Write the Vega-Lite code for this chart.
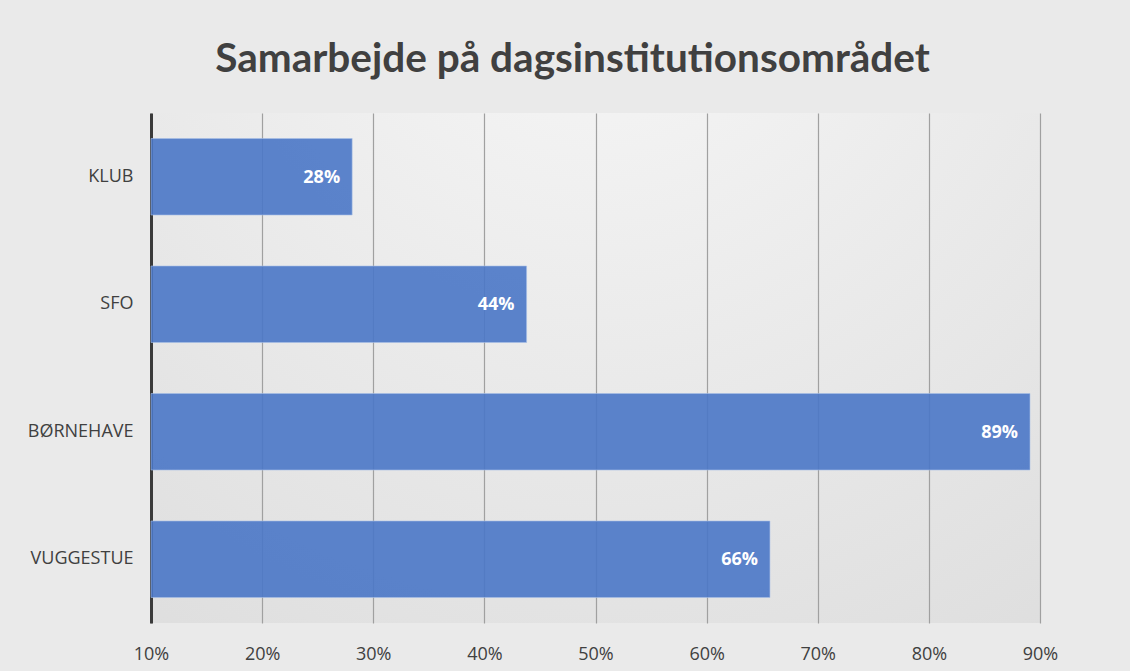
{
  "$schema": "https://vega.github.io/schema/vega-lite/v6.json",
  "width": 889,
  "height": 510,
  "autosize": {"type": "none"},
  "padding": {"left": 151, "top": 113, "right": 90, "bottom": 48},
  "background": "#eaeaea",
  "title": {
    "text": "Samarbejde på dagsinstitutionsområdet",
    "font": "Lato",
    "fontSize": 40.5,
    "fontWeight": "bold",
    "color": "#404040",
    "offset": 33,
    "dx": -23
  },
  "config": {
    "view": {
      "stroke": null,
      "fill": {
        "gradient": "radial",
        "x1": 0.5, "y1": 0, "r1": 0,
        "x2": 0.5, "y2": 0, "r2": 1.1,
        "stops": [
          {"offset": 0, "color": "#f8f8f8"},
          {"offset": 1, "color": "#dadada"}
        ]
      }
    }
  },
  "data": {
    "values": [
      {"kategori": "KLUB", "andel": 0.281},
      {"kategori": "SFO", "andel": 0.438},
      {"kategori": "BØRNEHAVE", "andel": 0.891},
      {"kategori": "VUGGESTUE", "andel": 0.657}
    ]
  },
  "encoding": {
    "y": {
      "field": "kategori",
      "type": "nominal",
      "sort": null,
      "scale": {"paddingInner": 0.4, "paddingOuter": 0.2},
      "axis": {
        "title": null,
        "ticks": false,
        "domainColor": "#3a3a3a",
        "domainWidth": 3,
        "labelFont": "Open Sans",
        "labelFontSize": 18,
        "labelColor": "#404040",
        "labelPadding": 18
      }
    }
  },
  "layer": [
    {
      "mark": {"type": "bar", "color": "#4a77c6", "fillOpacity": 0.9, "stroke": "#a9bfe6", "strokeWidth": 1, "strokeOpacity": 0.6},
      "encoding": {
        "x": {
          "field": "andel",
          "type": "quantitative",
          "scale": {"domain": [0.1, 0.9], "nice": false, "zero": false},
          "axis": {
            "title": null,
            "values": [0.1, 0.2, 0.3, 0.4, 0.5, 0.6, 0.7, 0.8, 0.9],
            "format": ".0%",
            "domain": false,
            "ticks": false,
            "grid": true,
            "gridColor": "#a0a0a0",
            "gridWidth": 1.2,
            "labelFlush": false,
            "labelFont": "Open Sans",
            "labelFontSize": 18,
            "labelColor": "#404040",
            "labelPadding": 22
          }
        },
        "x2": {"datum": 0.1}
      }
    },
    {
      "mark": {"type": "text", "align": "right", "baseline": "middle", "dx": -12, "dy": 1, "color": "white", "font": "Open Sans", "fontWeight": "bold", "fontSize": 18},
      "encoding": {
        "x": {"field": "andel", "type": "quantitative"},
        "text": {"field": "andel", "type": "quantitative", "format": ".0%"}
      }
    }
  ]
}
